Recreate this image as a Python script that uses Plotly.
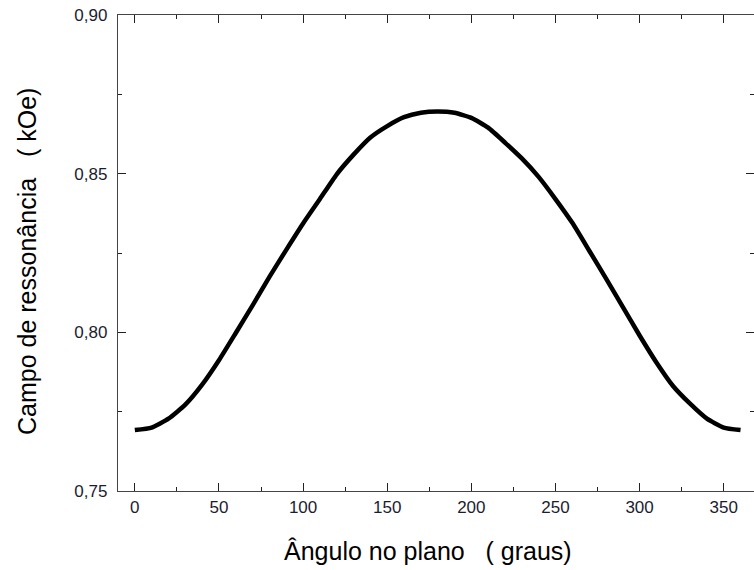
import plotly.graph_objects as go

angle = [0, 10, 20, 30, 40, 50, 60, 70, 80, 90, 100, 110, 120, 130, 140, 150, 160, 170, 180,
         190, 200, 210, 220, 230, 240, 250, 260, 270, 280, 290, 300, 310, 320, 330, 340, 350, 360]
field = [0.7692, 0.7700, 0.7728, 0.7772, 0.7835, 0.7912, 0.7998, 0.8085, 0.8175, 0.8260,
         0.8343, 0.8420, 0.8498, 0.8560, 0.8614, 0.8650, 0.8678, 0.8692, 0.8696,
         0.8692, 0.8676, 0.8645, 0.8598, 0.8548, 0.8490, 0.8420, 0.8345, 0.8258, 0.8170,
         0.8080, 0.7990, 0.7905, 0.7830, 0.7775, 0.7728, 0.7700, 0.7692]

x_ticks = [0, 50, 100, 150, 200, 250, 300, 350]
y_ticks = [0.75, 0.80, 0.85, 0.90]
x_title = "Ângulo no plano   ( graus)"
y_title = "Campo de ressonância   ( kOe)"

fig = go.Figure()
fig.add_trace(go.Scatter(x=angle, y=field, mode="lines",
                         line=dict(color="black", width=4.5, shape="spline", smoothing=0.5),
                         showlegend=False, hoverinfo="skip"))

tickfont = dict(family="Arial, Liberation Sans, sans-serif", size=17, color="#1c1c30")
fig.update_xaxes(range=[-10, 368], tickvals=x_ticks, ticks="inside", ticklen=8, tickwidth=1.3,
                 tickcolor="#222", showline=True, linecolor="#444", linewidth=1.3,
                 mirror="allticks", showgrid=False, zeroline=False, tickfont=tickfont,
                 minor=dict(tickvals=[25, 75, 125, 175, 225, 275, 325], ticks="inside",
                            ticklen=4, tickwidth=1.3, tickcolor="#222"))
fig.update_yaxes(range=[0.75, 0.90], tickvals=y_ticks, tickformat=".2f", ticks="inside",
                 ticklen=8, tickwidth=1.3, tickcolor="#222", showline=True, linecolor="#444",
                 linewidth=1.3, mirror="allticks", showgrid=False, zeroline=False,
                 tickfont=tickfont, ticklabelstandoff=6,
                 minor=dict(tickvals=[0.775, 0.825, 0.875], ticks="inside", ticklen=4,
                            tickwidth=1.3, tickcolor="#222"))

titlefont = dict(family="Arial, Liberation Sans, sans-serif", size=25, color="black")
fig.add_annotation(text=x_title, xref="paper", yref="paper", showarrow=False,
                   x=(427.5 - 118) / 636, y=-(551 - 491) / 476,
                   xanchor="center", yanchor="middle", font=titlefont)
fig.add_annotation(text=y_title, xref="paper", yref="paper", showarrow=False, textangle=-90,
                   x=(27 - 118) / 636, y=(491 - 262) / 476, xanchor="center", yanchor="middle",
                   font=titlefont)

fig.update_layout(width=754, height=570, margin=dict(l=118, r=0, t=15, b=79),
                  paper_bgcolor="white", plot_bgcolor="white", separators=", ")

fig.write_html("out.html")
